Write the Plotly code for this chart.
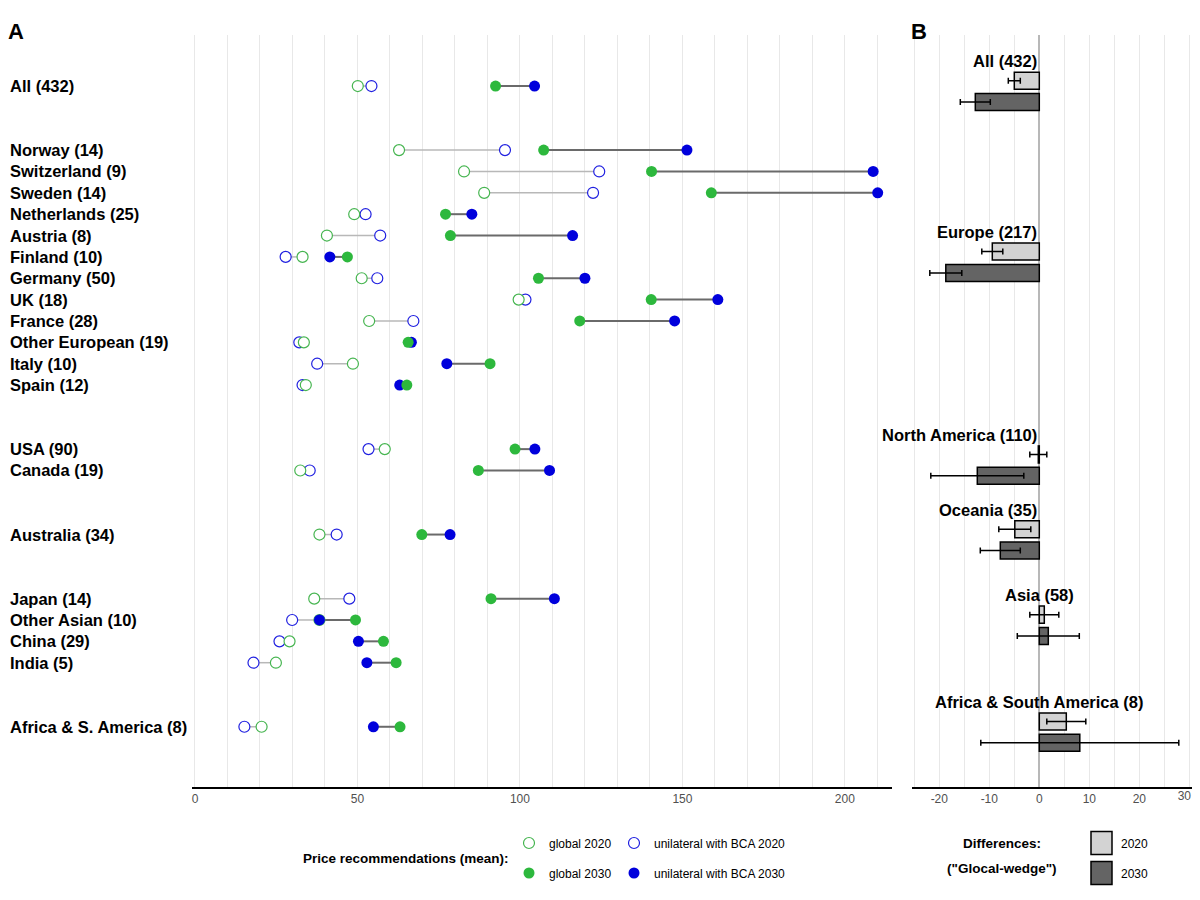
import plotly.graph_objects as go

# ---------------- data ----------------
groups = [
    ["All (432)"],
    ["Norway (14)", "Switzerland (9)", "Sweden (14)", "Netherlands (25)", "Austria (8)",
     "Finland (10)", "Germany (50)", "UK (18)", "France (28)", "Other European (19)",
     "Italy (10)", "Spain (12)"],
    ["USA (90)", "Canada (19)"],
    ["Australia (34)"],
    ["Japan (14)", "Other Asian (10)", "China (29)", "India (5)"],
    ["Africa & S. America (8)"],
]
global_2020 = [50.1, 62.8, 82.8, 89.0, 49.0, 40.6, 33.1, 51.3, 99.6, 53.6, 33.5, 48.6, 34.1,
               58.4, 32.4, 38.3, 36.7, 38.3, 29.1, 24.9, 20.5]
bca_2020 = [54.3, 95.4, 124.4, 122.5, 52.5, 57.0, 27.9, 56.1, 101.7, 67.2, 32.1, 37.6, 33.1,
            53.4, 35.3, 43.6, 47.5, 29.9, 26.0, 18.0, 15.2]
global_2030 = [92.5, 107.3, 140.5, 158.9, 77.1, 78.6, 46.9, 105.7, 140.4, 118.4, 65.6, 90.8, 65.2,
               98.5, 87.2, 69.8, 91.1, 49.4, 58.0, 61.9, 63.1]
bca_2030 = [104.5, 151.4, 208.7, 210.1, 85.2, 116.2, 41.5, 120.0, 160.9, 147.6, 66.6, 77.5, 63.0,
            104.6, 109.1, 78.5, 110.6, 38.3, 50.3, 52.9, 54.9]

regions = ["All (432)", "Europe (217)", "North America (110)", "Oceania (35)", "Asia (58)",
           "Africa & South America (8)"]
# rows of panel A that each region of panel B lines up with
region_anchor = [["All (432)"], ["Finland (10)"], ["USA (90)", "Canada (19)"], ["Australia (34)"],
                 ["Other Asian (10)"], ["Africa & S. America (8)"]]
wedge_2020 = [-5.0, -9.4, -0.2, -4.9, 1.0, 5.4]
err_2020 = [1.2, 2.1, 1.7, 3.2, 2.9, 3.9]
wedge_2030 = [-12.8, -18.7, -12.4, -7.8, 1.8, 8.1]
err_2030 = [3.0, 3.2, 9.3, 4.0, 6.2, 19.8]

a_ticks = [0, 50, 100, 150, 200]
b_ticks = [-20, -10, 0, 10, 20, 30]

# ---------------- layout helpers ----------------
GAP = 2
countries, rows = [], []
r = 0
for gi, g in enumerate(groups):
    if gi > 0:
        r += GAP
    for c in g:
        countries.append(c)
        rows.append(r)
        r += 1
row_of = dict(zip(countries, rows))
anchors = [sum(row_of[a] for a in al) / len(al) for al in region_anchor]

FONT = "Liberation Sans, Arial, sans-serif"
GREEN = "#2db83d"
GREEN_O = "#46b550"
BLUE = "#0000dc"
BLUE_O = "#2020e0"
LIGHT, DARK = "#d3d3d3", "#646464"

OFF = 8  # page body margin
W, H = 1200 - 2 * OFF, 900 - 2 * OFF
ML, MR, MT, MB = 192 - OFF, 1200 - OFF - 1192, 35 - OFF, (900 - OFF) - 787
PW, PH = W - ML - MR, H - MT - MB

B_RANGE = [-25.46, 30.54]
b_inner = [t for t in b_ticks if t < 30]
b_edge = [t for t in b_ticks if t >= 30]  # label at the very right edge of the page


def px_x(px):
    return (px - OFF - ML) / PW


def px_y(py):
    return (H - MB - (py - OFF)) / PH


def seg(a, b, rr):
    xs, ys = [], []
    for va, vb, yy in zip(a, b, rr):
        xs += [va, vb, None]
        ys += [yy, yy, None]
    return xs, ys


fig = go.Figure()

x1, y1 = seg(global_2020, bca_2020, rows)
fig.add_trace(go.Scatter(x=x1, y=y1, mode="lines", line=dict(color="#b8b8b8", width=1.5),
                         showlegend=False, hoverinfo="skip"))
x2, y2 = seg(global_2030, bca_2030, rows)
fig.add_trace(go.Scatter(x=x2, y=y2, mode="lines", line=dict(color="#6a6a6a", width=2),
                         showlegend=False, hoverinfo="skip"))

fig.add_trace(go.Scatter(x=bca_2020, y=rows, mode="markers", name="unilateral with BCA 2020",
                         marker=dict(size=11, color="white", line=dict(color=BLUE_O, width=1.2)),
                         legend="legend2"))
fig.add_trace(go.Scatter(x=global_2020, y=rows, mode="markers", name="global 2020",
                         marker=dict(size=11, color="white", line=dict(color=GREEN_O, width=1.2)),
                         legend="legend"))
fig.add_trace(go.Scatter(x=bca_2030, y=rows, mode="markers", name="unilateral with BCA 2030",
                         marker=dict(size=11, color=BLUE, line=dict(width=0)),
                         legend="legend4"))
fig.add_trace(go.Scatter(x=global_2030, y=rows, mode="markers", name="global 2030",
                         marker=dict(size=11, color=GREEN, line=dict(width=0)),
                         legend="legend3"))

fig.add_trace(go.Bar(x=wedge_2020, y=[a - 0.25 for a in anchors], orientation="h", width=0.8,
                     marker=dict(color=LIGHT, line=dict(color="black", width=1.5)),
                     error_x=dict(type="data", array=err_2020, color="black", thickness=1.5, width=3),
                     xaxis="x2", yaxis="y2", showlegend=False))
fig.add_trace(go.Bar(x=wedge_2030, y=[a + 0.75 for a in anchors], orientation="h", width=0.8,
                     marker=dict(color=DARK, line=dict(color="black", width=1.5)),
                     error_x=dict(type="data", array=err_2030, color="black", thickness=1.5, width=3),
                     xaxis="x2", yaxis="y2", showlegend=False))
# legend keys for the bars (symbol blends into a larger framed key box)
fig.add_trace(go.Scatter(x=[None], y=[None], mode="markers", name="2020", legend="legend5",
                         marker=dict(symbol="square", size=16, color=LIGHT, line=dict(width=0)),
                         xaxis="x3", yaxis="y2"))
fig.add_trace(go.Scatter(x=[None], y=[None], mode="markers", name="2030", legend="legend6",
                         marker=dict(symbol="square", size=16, color=DARK, line=dict(width=0)),
                         xaxis="x3", yaxis="y2"))

yr = [32.82, -2.39]
axis_common = dict(showline=True, linecolor="black", linewidth=2, ticks="",
                   tickfont=dict(size=12, color="#505050", family=FONT),
                   gridcolor="#e8e8e8", gridwidth=1)

ann = []
for c, rr in zip(countries, rows):
    ann.append(dict(text=f"<b>{c}</b>", x=px_x(8), xref="paper", y=rr, yref="y",
                    xanchor="left", yanchor="middle", showarrow=False,
                    font=dict(size=16.5, color="black", family=FONT)))
for reg, a, v in zip(regions, anchors, wedge_2030):
    ann.append(dict(text=f"<b>{reg}</b>", x=0, xref="x2", y=a - 1.15, yref="y2",
                    xanchor="right" if v < 0 else "center", yanchor="middle", showarrow=False,
                    font=dict(size=16.5, color="black", family=FONT)))
ann.append(dict(text="<b>A</b>", x=px_x(6), xref="paper", y=px_y(31), yref="paper",
                xanchor="left", yanchor="middle", showarrow=False,
                font=dict(size=22, color="black", family=FONT)))
ann.append(dict(text="<b>B</b>", x=px_x(909), xref="paper", y=px_y(31), yref="paper",
                xanchor="left", yanchor="middle", showarrow=False,
                font=dict(size=22, color="black", family=FONT)))
ann.append(dict(text="<b>Price recommendations (mean):</b>", x=px_x(511), xref="paper",
                y=px_y(858), yref="paper", xanchor="right", yanchor="middle", showarrow=False,
                font=dict(size=13.5, color="black", family=FONT)))
ann.append(dict(text="<b>Differences:</b>", x=px_x(1002), xref="paper",
                y=px_y(843), yref="paper", xanchor="center", yanchor="middle", showarrow=False,
                font=dict(size=13.5, color="black", family=FONT)))
ann.append(dict(text="<b>(\"Glocal-wedge\")</b>", x=px_x(1002), xref="paper",
                y=px_y(868), yref="paper", xanchor="center", yanchor="middle", showarrow=False,
                font=dict(size=13.5, color="black", family=FONT)))

shapes = []
for cy, col in [(843, LIGHT), (873, DARK)]:
    shapes.append(dict(type="rect", xref="paper", yref="paper",
                       x0=px_x(1091), x1=px_x(1112), y0=px_y(cy - 11.5), y1=px_y(cy + 11.5),
                       fillcolor=col, line=dict(color="black", width=1.5), layer="above"))


def leg(sym_x, sym_y):
    return dict(x=px_x(sym_x - 20), y=px_y(sym_y), xanchor="left", yanchor="middle",
                orientation="h", bgcolor="rgba(0,0,0,0)", borderwidth=0,
                font=dict(size=12, color="black", family=FONT))


fig.update_layout(
    width=W, height=H,
    margin=dict(l=ML, r=MR, t=MT, b=MB),
    paper_bgcolor="white", plot_bgcolor="white",
    font=dict(family=FONT),
    xaxis=dict(domain=[0, 0.70], range=[-0.92, 214.5], tickvals=a_ticks,
               ticktext=[str(t) for t in a_ticks],
               showgrid=True, zeroline=False,
               minor=dict(dtick=10, showgrid=True, gridcolor="#e8e8e8", gridwidth=1),
               **axis_common),
    yaxis=dict(range=yr, showticklabels=False, showgrid=False, zeroline=False, showline=False),
    xaxis2=dict(domain=[0.72, 1.0], range=B_RANGE, anchor="y2",
                tickvals=b_inner, ticktext=[str(t) for t in b_inner], showgrid=True,
                minor=dict(dtick=5, showgrid=True, gridcolor="#e8e8e8", gridwidth=1),
                zeroline=True, zerolinecolor="#b8b8b8", zerolinewidth=1.5,
                **axis_common),
    xaxis3=dict(overlaying="x2", anchor="y2", range=B_RANGE, side="bottom",
                tickvals=b_edge, ticktext=[str(t) for t in b_edge], ticks="",
                showgrid=False, zeroline=False, showline=False, ticklabelshift=-5,
                ticklabeloverflow="allow",
                tickfont=dict(size=12, color="#505050", family=FONT)),
    yaxis2=dict(range=yr, anchor="x2", showticklabels=False, showgrid=False, zeroline=False,
                showline=False),
    barmode="overlay",
    legend=leg(529, 843),
    legend2=leg(634, 843),
    legend3=leg(529, 873),
    legend4=leg(634, 873),
    legend5=leg(1101, 843),
    legend6=leg(1101, 873),
    annotations=ann,
    shapes=shapes,
)

fig.write_html("out.html", config={"displayModeBar": False})
